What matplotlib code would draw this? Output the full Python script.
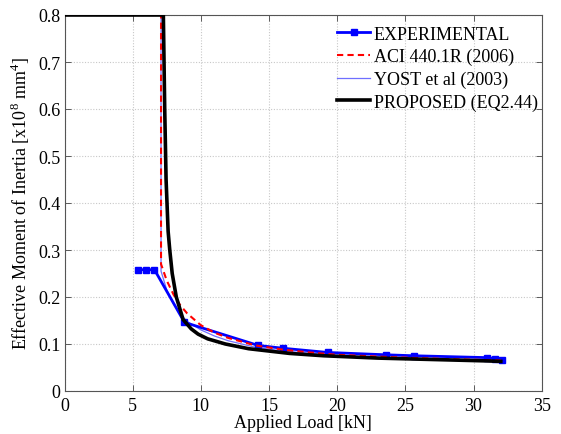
import matplotlib
matplotlib.use("Agg")
import matplotlib.pyplot as plt

# Measured effective moment of inertia vs applied load
exp_load = [5.4, 6.0, 6.6, 8.8, 14.2, 16.0, 19.3, 23.6, 25.6, 31.0, 31.6, 32.1]
exp_ie = [0.258, 0.258, 0.258, 0.146, 0.097, 0.091, 0.082, 0.077, 0.075, 0.071, 0.069, 0.067]

# ACI 440.1R (2006) prediction
aci_load = [0.0, 7.08, 7.08, 7.5, 8.0, 8.5, 9.0, 10.0, 11.0, 12.0, 14.0, 16.0, 18.0,
            20.0, 24.0, 28.0, 32.0]
aci_ie = [0.8, 0.8, 0.27, 0.235, 0.205, 0.182, 0.165, 0.140, 0.124, 0.113, 0.097,
          0.088, 0.082, 0.077, 0.072, 0.068, 0.065]

# Yost et al (2003) prediction
yost_load = [0.0, 7.08, 7.08, 7.5, 8.0, 8.5, 9.0, 10.0, 11.0, 12.0, 14.0, 16.0,
             20.0, 24.0, 28.0, 32.0]
yost_ie = [0.8, 0.8, 0.255, 0.215, 0.185, 0.163, 0.148, 0.130, 0.117, 0.107, 0.093,
           0.085, 0.076, 0.071, 0.068, 0.065]

# Proposed model (Eq. 2.44)
prop_load = [0.0, 7.25, 7.35, 7.45, 7.6, 7.72, 7.9, 8.2, 8.7, 9.3, 9.8, 10.5, 11.8,
             13.5, 16.5, 19.0, 23.0, 27.0, 31.0, 32.0]
prop_ie = [0.8, 0.8, 0.6, 0.45, 0.34, 0.30, 0.25, 0.20, 0.152, 0.132, 0.121, 0.111, 0.10,
           0.09, 0.08, 0.075, 0.070, 0.067, 0.064, 0.063]

x_ticks = [0, 5, 10, 15, 20, 25, 30, 35]
y_ticks = [0, 0.1, 0.2, 0.3, 0.4, 0.5, 0.6, 0.7, 0.8]

plt.rcParams["font.family"] = ["Liberation Serif", "DejaVu Serif"]
plt.rcParams["mathtext.fontset"] = "custom"
plt.rcParams["mathtext.rm"] = "Liberation Serif"

fig = plt.figure(figsize=(5.61, 4.35), dpi=100)
ax = fig.add_axes([64.5 / 561, 43 / 435, (541.7 - 64.5) / 561, (392 - 16) / 435])

ax.plot(exp_load, exp_ie, color="#0000ff", lw=2.0, marker="s", ms=5,
        label="EXPERIMENTAL", zorder=3)
ax.plot(aci_load, aci_ie, color="#ff0000", lw=1.5, ls=(0, (3, 2)),
        label="ACI 440.1R (2006)", zorder=4)
ax.plot(yost_load, yost_ie, color="#6f6fff", lw=0.9,
        label="YOST et al (2003)", zorder=2)
ax.plot(prop_load, prop_ie, color="black", lw=2.6,
        label="PROPOSED (EQ2.44)", zorder=5)

ax.set_xlim(0, 35)
ax.set_ylim(0, 0.8)
ax.set_xticks(x_ticks)
ax.set_yticks(y_ticks)
ax.set_yticklabels(["0", "0.1", "0.2", "0.3", "0.4", "0.5", "0.6", "0.7", "0.8"])
ax.grid(True, color="#c8c8c8", ls=(0, (1, 1.5)), lw=0.8)
ax.set_axisbelow(True)
ax.tick_params(direction="in", top=True, right=True, labelsize=13, length=4,
               width=0.6, color="#444444")
ax.tick_params(axis="x", pad=4)
ax.tick_params(axis="y", pad=3)
for sp in ax.spines.values():
    sp.set_linewidth(0.8)
    sp.set_color("#555555")

ax.set_xlabel("Applied Load [kN]", fontsize=13, labelpad=0)
ax.set_ylabel(r"Effective Moment of Inertia [x10$^8$ mm$^4$]", fontsize=13, labelpad=4)

leg = ax.legend(loc="upper left", bbox_to_anchor=(0.571, 0.972), frameon=False,
                fontsize=13, handlelength=1.85, handletextpad=0.2,
                labelspacing=0.3, borderaxespad=0.0, borderpad=0.0)

fig.savefig("out.png", dpi=100)
